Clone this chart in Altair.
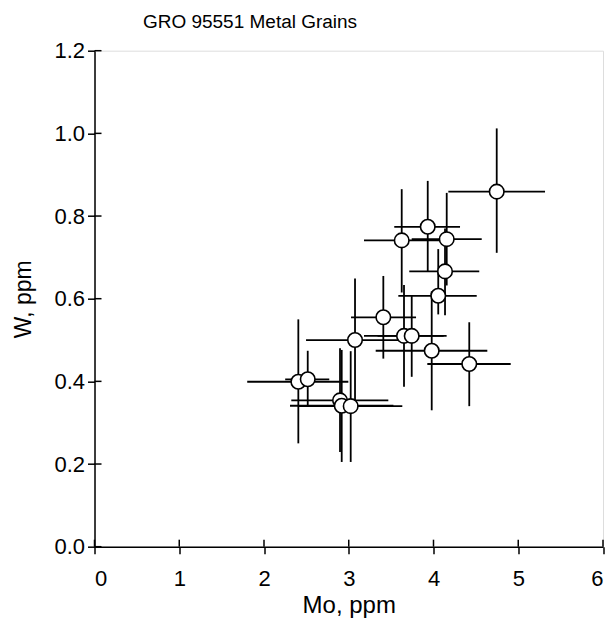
import altair as alt
import pandas as pd

# Mo (ppm) and W (ppm) of individual metal grains with 1-sigma error ranges
mo = [4.746, 3.932, 3.625, 4.156, 4.136, 4.056, 3.408, 3.074, 3.652, 3.743, 3.979, 4.422, 2.405, 2.516, 2.897, 2.917, 3.023]
w = [0.859, 0.774, 0.741, 0.744, 0.666, 0.607, 0.555, 0.500, 0.510, 0.510, 0.474, 0.442, 0.399, 0.405, 0.354, 0.341, 0.340]
mo_lo = [4.175, 3.537, 3.180, 3.743, 3.714, 3.585, 3.027, 2.496, 3.180, 3.340, 3.318, 3.927, 1.802, 2.250, 2.322, 2.307, 2.413]
mo_hi = [5.316, 4.313, 4.070, 4.569, 4.540, 4.510, 3.794, 3.652, 4.120, 4.155, 4.635, 4.911, 2.995, 2.770, 3.467, 3.527, 3.632]
w_lo = [0.711, 0.665, 0.615, 0.632, 0.560, 0.562, 0.455, 0.351, 0.387, 0.411, 0.330, 0.340, 0.250, 0.342, 0.229, 0.205, 0.205]
w_hi = [1.012, 0.885, 0.865, 0.856, 0.770, 0.720, 0.655, 0.649, 0.633, 0.609, 0.618, 0.543, 0.550, 0.474, 0.480, 0.476, 0.473]

x_ticks = [0, 1, 2, 3, 4, 5, 6]
y_ticks = [0.0, 0.2, 0.4, 0.6, 0.8, 1.0, 1.2]

df = pd.DataFrame({"mo": mo, "w": w, "mo_lo": mo_lo, "mo_hi": mo_hi, "w_lo": w_lo, "w_hi": w_hi})
xt = pd.DataFrame({"t": x_ticks})
yt = pd.DataFrame({"t": y_ticks})

W, H = 508.5, 496
FONT = "Liberation Sans"

xs = alt.Scale(domain=[0, 6], nice=False, zero=False)
ys = alt.Scale(domain=[0, 1.2], nice=False, zero=False)

x_axis = alt.Axis(values=x_ticks, title="Mo, ppm", format="d", grid=False,
                  tickSize=7, tickWidth=1.5, tickColor="black",
                  domainColor="black", domainWidth=1.5,
                  labelFontSize=22, labelFont=FONT, labelColor="black", labelPadding=15,
                  titleFontSize=24, titleFont=FONT, titleFontWeight="normal", titleColor="black",
                  titlePadding=4)
y_axis = alt.Axis(values=y_ticks, title="W, ppm", format=".1f", grid=False,
                  tickSize=7, tickWidth=1.5, tickColor="black",
                  domainColor="black", domainWidth=1.5,
                  labelFontSize=22, labelFont=FONT, labelColor="black", labelPadding=3,
                  titleFontSize=23, titleFont=FONT, titleFontWeight="normal", titleColor="black",
                  titlePadding=18)

base = alt.Chart(df)

hbars = base.mark_rule(color="black", strokeWidth=1.8).encode(
    x=alt.X("mo_lo:Q", scale=xs, axis=x_axis),
    x2="mo_hi:Q",
    y=alt.Y("w:Q", scale=ys, axis=y_axis),
)
vbars = base.mark_rule(color="black", strokeWidth=1.8).encode(
    x=alt.X("mo:Q", scale=xs),
    y=alt.Y("w_lo:Q", scale=ys),
    y2="w_hi:Q",
)
pts = base.mark_point(shape="circle", filled=True, fill="white", stroke="black",
                      strokeWidth=1.6, size=210, opacity=1).encode(
    x=alt.X("mo:Q", scale=xs),
    y=alt.Y("w:Q", scale=ys),
)

xin = alt.Chart(xt).mark_rule(color="black", strokeWidth=1.5).encode(
    x=alt.X("t:Q", scale=xs), y=alt.value(H - 7), y2=alt.value(H))
yin = alt.Chart(yt).mark_rule(color="black", strokeWidth=1.5).encode(
    y=alt.Y("t:Q", scale=ys), x=alt.value(0), x2=alt.value(7))

chart = alt.layer(hbars, vbars, xin, yin, pts).properties(
    width=W, height=H,
    title=alt.TitleParams("GRO 95551 Metal Grains", anchor="start", dx=130, offset=8,
                          fontSize=19, font=FONT, fontWeight="normal", color="black"),
    padding={"left": 86.5, "top": 42.7, "right": 2, "bottom": 75},
    autosize=alt.AutoSizeParams(type="none"),
).configure_view(stroke="black", strokeWidth=1.5).configure(background="white")

chart.save("out.html", embed_options={"renderer": "svg", "actions": False})
